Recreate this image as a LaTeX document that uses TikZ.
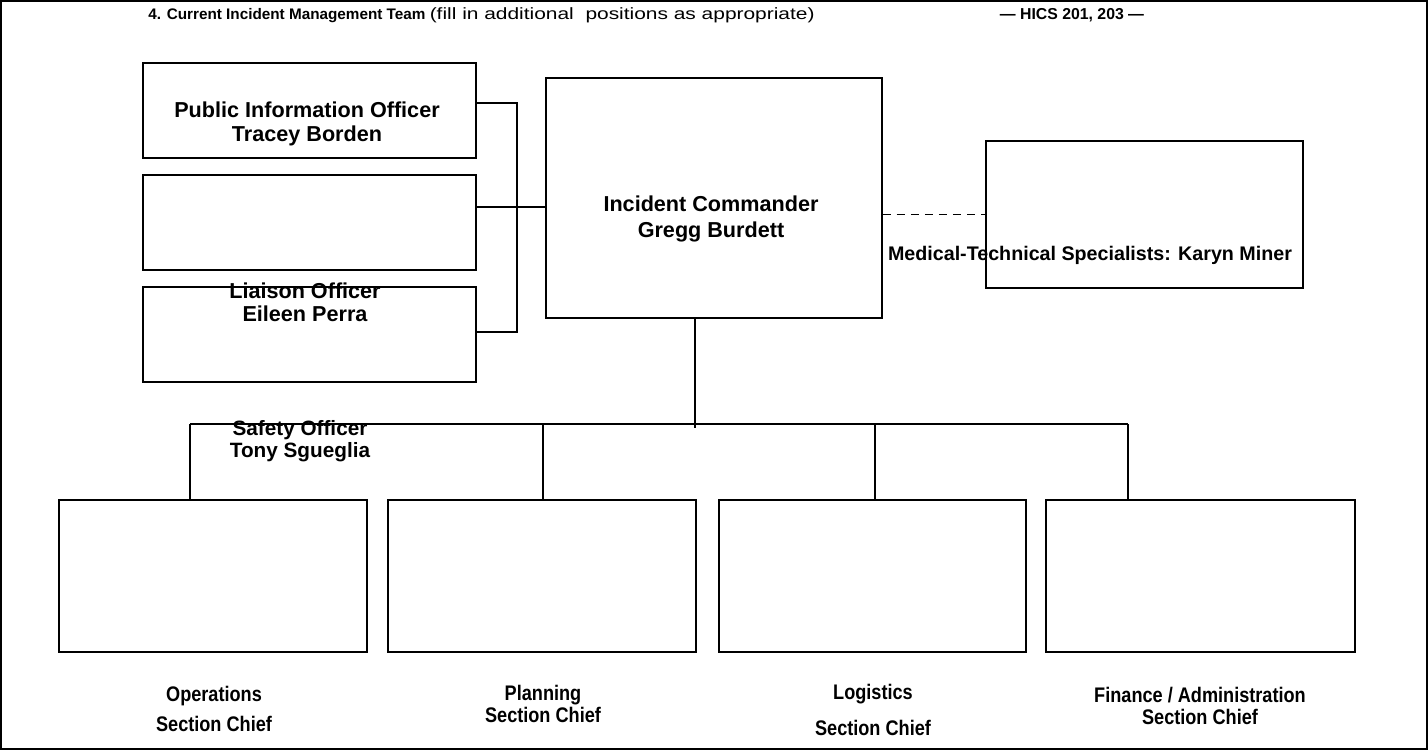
\documentclass[tikz,border=0pt]{standalone}
\usepackage{fontspec}
\setmainfont{Liberation Sans}
\newfontfamily\widefont[FakeStretch=1.28]{Liberation Sans}
\newfontfamily\narrowfont[FakeStretch=0.86]{Liberation Sans}
\begin{document}
\begin{tikzpicture}[x=0.02cm, y=-0.02cm,
    box/.style={draw, line width=0.8pt, inner sep=0pt},
    roletext/.style={font=\bfseries\fontsize{12.3}{13.2}\selectfont, align=center, inner sep=0pt},
    chieftext/.style={font=\narrowfont\bfseries\fontsize{12}{12.5}\selectfont, align=center, inner sep=0pt},
    link/.style={line width=0.7pt}]
    \useasboundingbox (0,0) rectangle (1428,750);
    \draw[line width=1.4pt] (1,1) rectangle (1427,749);

    \node[anchor=west, inner sep=0pt] (title) at (148,15)
        {\fontsize{8.7}{10}\selectfont\textbf{4. Current Incident Management Team}
         {\widefont\fontsize{9.3}{10}\selectfont (fill in additional\ \ positions as appropriate)}};
    \node[font=\bfseries\fontsize{9}{10}\selectfont, inner sep=0pt] (hics) at (1072,15) {--- HICS 201, 203 ---};

    \node[box, minimum width=6.66cm, minimum height=1.9cm] (pio) at (309.5,110.5) {};
    \node[box, minimum width=6.66cm, minimum height=1.9cm] (blank) at (309.5,222.5) {};
    \node[box, minimum width=6.66cm, minimum height=1.9cm] (lia) at (309.5,334.5) {};
    \node[box, minimum width=6.72cm, minimum height=4.8cm] (ic) at (714,198) {};
    \node[box, minimum width=6.34cm, minimum height=2.94cm] (med) at (1144.5,214.5) {};
    \node[box, minimum width=6.16cm, minimum height=3.04cm] (ops) at (213,576) {};
    \node[box, minimum width=6.16cm, minimum height=3.04cm] (plan) at (542,576) {};
    \node[box, minimum width=6.14cm, minimum height=3.04cm] (log) at (872.5,576) {};
    \node[box, minimum width=6.18cm, minimum height=3.04cm] (fin) at (1200.5,576) {};

    \coordinate (brtop) at (517,103);
    \coordinate (brmid) at (517,207);
    \coordinate (brbot) at (517,332);
    \draw[link] (pio.east |- brtop) -- (brtop) -- (brbot) -- (lia.east |- brbot);
    \draw[link] (blank.east |- brmid) -- (ic.west |- brmid);
    \draw[link, dashed, dash pattern=on 4.5pt off 3.5pt] (ic.east |- med.west) -- (med.west);

    \coordinate (icbot) at (695,428);
    \coordinate (b1) at (190,424);
    \coordinate (b2) at (543,424);
    \coordinate (b3) at (875,424);
    \coordinate (b4) at (1128,424);
    \draw[link] (icbot |- ic.south) -- (icbot);
    \draw[link] (b1) -- (b4);
    \foreach \b/\s in {b1/ops, b2/plan, b3/log, b4/fin}
        \draw[link] (\b) -- (\b |- \s.north);

    \node[roletext] (piotxt) at (307,124) {Public Information Officer\\Tracey Borden};
    \node[roletext] (liatxt) at (305,302) {Liaison Officer\\Eileen Perra};
    \node[roletext, font=\bfseries\fontsize{12.3}{14.8}\selectfont] (ictxt) at (711,219) {Incident Commander\\Gregg Burdett};
    \node[roletext, font=\bfseries\fontsize{11.2}{12}\selectfont] (medtxt) at (1090,255) {Medical-Technical Specialists: Karyn Miner};
    \node[roletext, font=\bfseries\fontsize{11.8}{12.5}\selectfont] (saftxt) at (300,441) {Safety Officer\\Tony Sgueglia};

    \node[chieftext] (opstxt) at (214,709) {Operations\\[5pt]Section Chief};
    \node[chieftext] (plantxt) at (543,704) {Planning\\Section Chief};
    \node[chieftext] (logtxt) at (873,710) {Logistics\\[8pt]Section Chief};
    \node[chieftext] (fintxt) at (1200,706) {Finance / Administration\\Section Chief};
\end{tikzpicture}
\end{document}
